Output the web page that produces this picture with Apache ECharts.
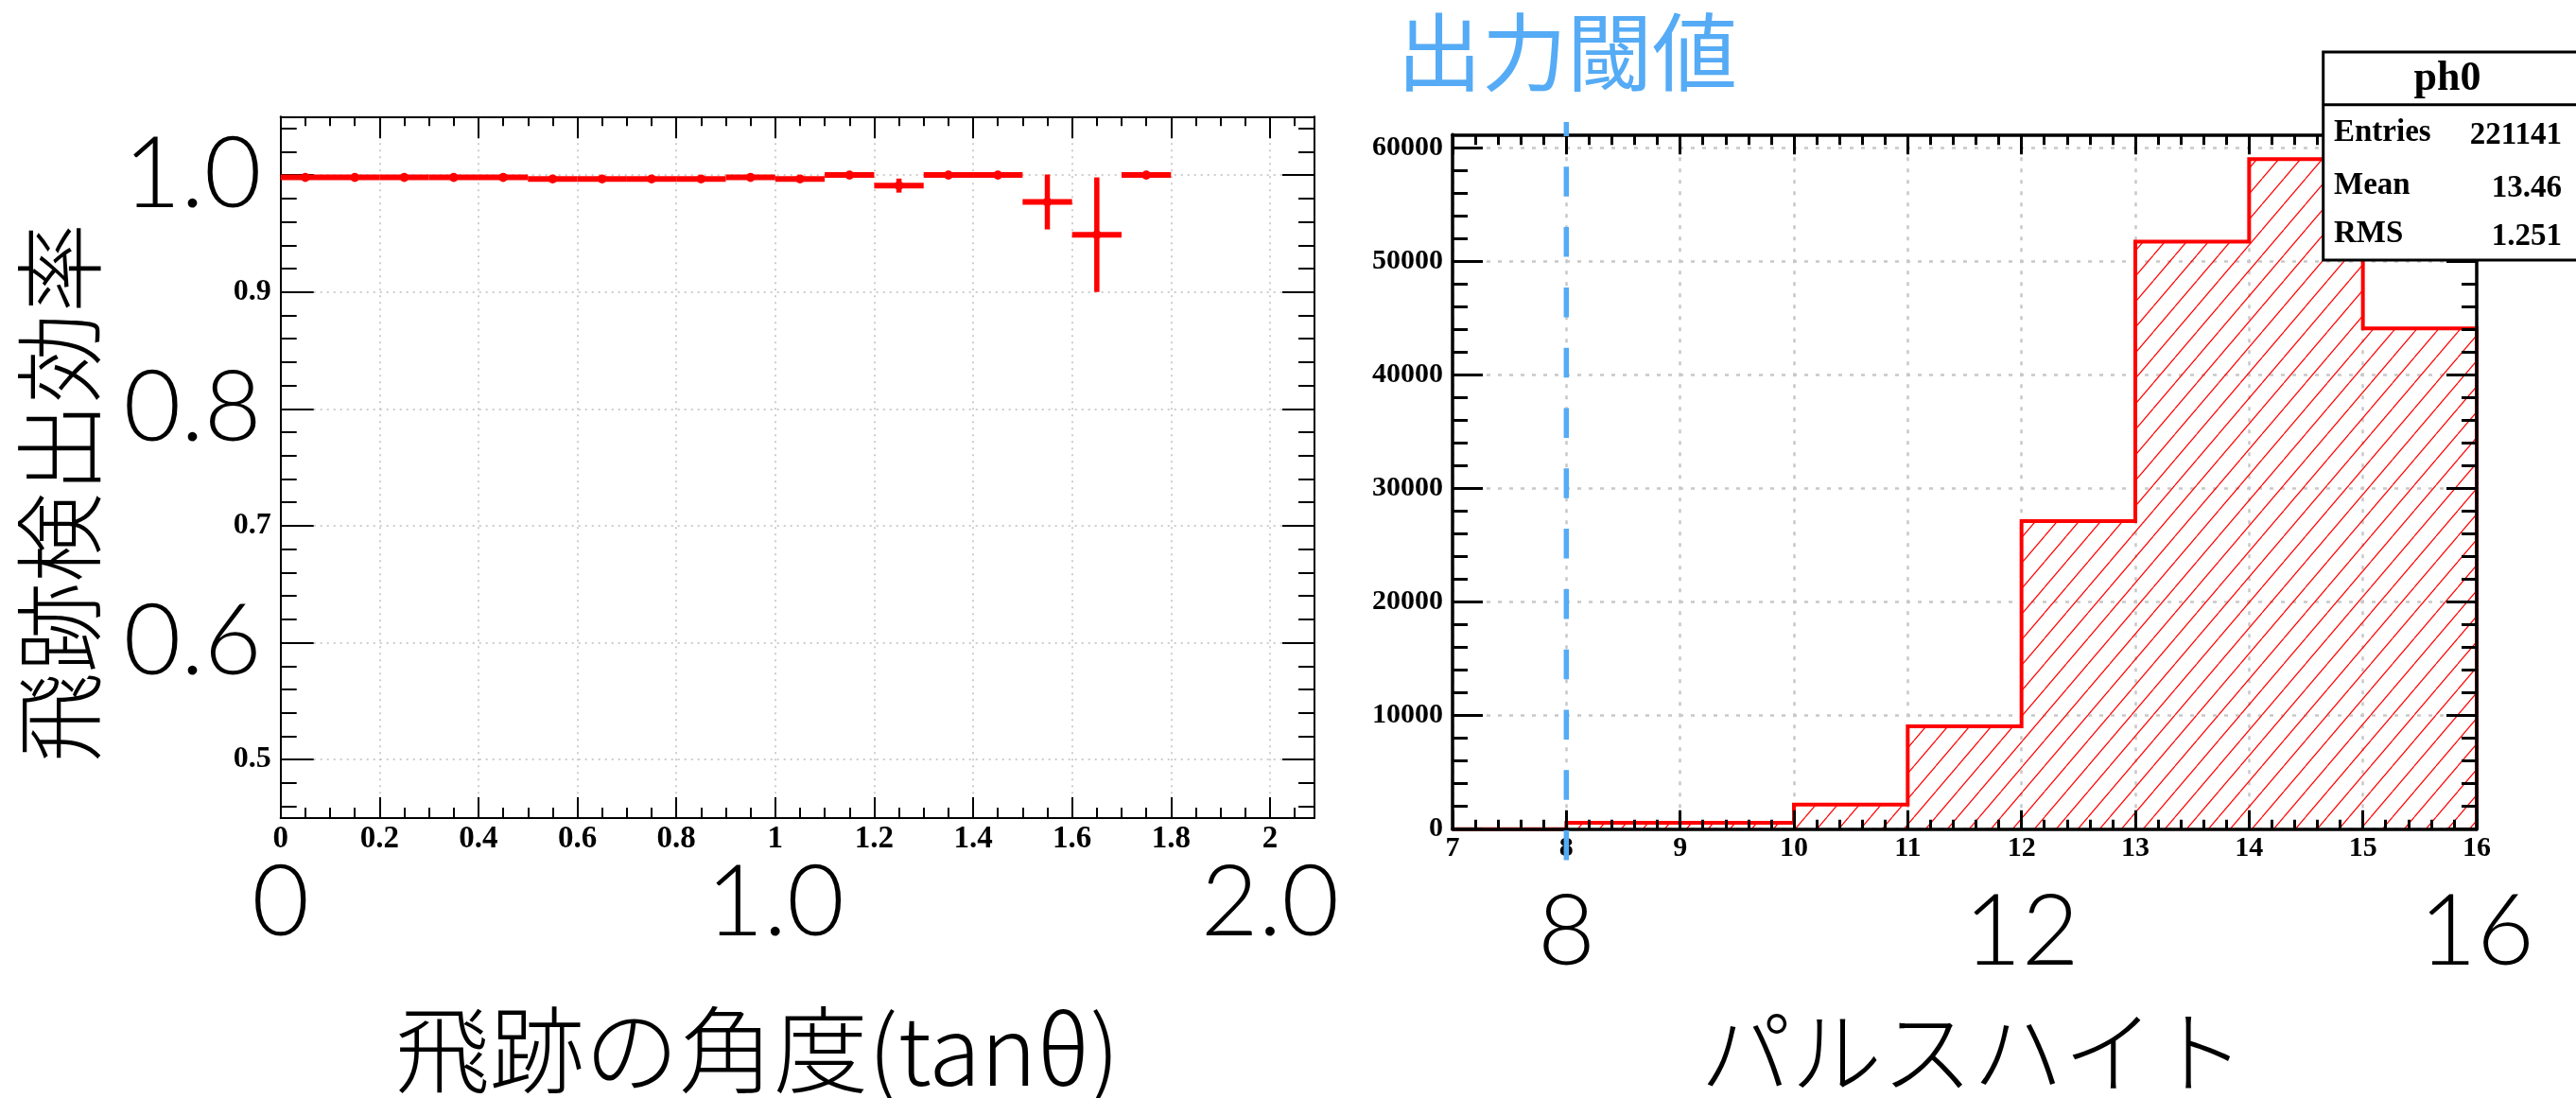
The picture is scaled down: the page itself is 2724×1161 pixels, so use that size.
<!DOCTYPE html>
<html><head><meta charset="utf-8">
<script src="https://cdn.jsdelivr.net/npm/echarts@6/dist/echarts.min.js"></script>
<style>html,body{margin:0;padding:0;background:#fff}#c{width:2724px;height:1161px}</style>
</head><body><div id="c"></div>
<script>
// ---------- Left panel: track detection efficiency vs tan(theta) ----------
const effBinCenters = [0.05,0.15,0.25,0.35,0.45,0.55,0.65,0.75,0.85,0.95,1.05,1.15,1.25,1.35,1.45,1.55,1.65,1.75];
const effValues     = [0.998,0.998,0.998,0.998,0.998,0.9967,0.9967,0.9967,0.9967,0.998,0.9967,1.0,0.991,1.0,1.0,0.977,0.949,1.0];
const effErrors     = [0.001,0.001,0.001,0.001,0.001,0.001,0.001,0.001,0.001,0.001,0.001,0.001,0.006,0.001,0.001,0.0235,0.049,0.001];
const effBinWidth = 0.1;
const effXTickLabels = [0,0.2,0.4,0.6,0.8,1,1.2,1.4,1.6,1.8,2];
const effYMajorTicks = [0.5,0.6,0.7,0.8,0.9,1.0];
const effYTickLabels = [0.5,0.7,0.9];
const effBigXLabels = [0,1,2];
const effBigYLabels = [0.6,0.8,1.0];

// ---------- Right panel: pulse height histogram ----------
const phBinEdges = [7,8,9,10,11,12,13,14,15,16];
const phCounts   = [0,560,560,2170,9060,27140,51770,59040,44120];
const phXTickLabels = [7,8,9,10,11,12,13,14,15,16];
const phYTickLabels = [0,10000,20000,30000,40000,50000,60000];
const phBigXLabels = [8,12,16];
const phThreshold = 8;
const statsTitle = 'ph0';
const statsNames  = ['Entries','Mean','RMS'];
const statsValues = ['221141','13.46','1.251'];

function steps(a, b, s){ const out=[]; const n=Math.round((b-a)/s); for(let i=0;i<=n;i++) out.push(+(a+i*s).toFixed(6)); return out; }
function minorOf(a, b, s, majors){ return steps(a,b,s).filter(v=>!majors.some(m=>Math.abs(m-v)<1e-9)); }

const effXMinor = minorOf(0, 2.05, 0.05, effXTickLabels);
const effYMinor = minorOf(0.46, 1.04, 0.02, effYMajorTicks);
const phXMinor = minorOf(7, 16, 0.2, phXTickLabels);
const phYMinor = minorOf(0, 60000, 2000, phYTickLabels);

const SERIF = '"Liberation Serif", "Times New Roman", serif';
const THIN = 'Lato, "Noto Sans", sans-serif';
const CJK = '"Noto Sans CJK JP", "Noto Sans", sans-serif';

function ax(extra){
  return Object.assign({type:'value', axisLine:{show:false,onZero:false}, axisTick:{show:false}, axisLabel:{show:false}, splitLine:{show:false}}, extra);
}
function tick(vals, len, w, inside){ return {show:true, inside:inside!==false, length:len, customValues:vals, lineStyle:{color:'#000', width:w}}; }
function line(w){ return {show:true, onZero:false, lineStyle:{color:'#000', width:w}}; }

const L = {min:0, max:2.09}, LY = {min:0.45, max:1.05};
const R = {min:7, max:16}, RY = {min:0, max:61200};
const gridDotR = {show:true, lineStyle:{color:'#c8c8c8', type:[4,8], width:2.5}};

const xAxes = [
  // left grid
  ax(Object.assign({gridIndex:0, position:'bottom', axisLine:line(2), axisTick:tick(effXTickLabels,22,2),
    axisLabel:{show:true, customValues:effXTickLabels, formatter:v=>String(v), margin:6, color:'#000', fontFamily:SERIF, fontWeight:'bold', fontSize:33, lineHeight:33},
    splitLine:{show:true, lineStyle:{color:'#bdbdbd', type:[2,5], width:1.5}}}, L)),
  ax(Object.assign({gridIndex:0, position:'bottom', axisTick:tick(effXMinor,11,2)}, L)),
  ax(Object.assign({gridIndex:0, position:'top', axisLine:line(2), axisTick:tick(effXTickLabels,23,2)}, L)),
  ax(Object.assign({gridIndex:0, position:'top', axisTick:tick(effXMinor,10,2)}, L)),
  ax(Object.assign({gridIndex:0, position:'bottom',
    axisLabel:{show:true, customValues:effBigXLabels, formatter:v=>v===0?'0':v.toFixed(1), margin:38, color:'#000', fontFamily:THIN, fontWeight:300, fontSize:105, lineHeight:105}}, L)),
  // right grid
  ax(Object.assign({gridIndex:1, position:'bottom', z:5, axisLine:line(3.5), axisTick:tick(phXTickLabels,20,3),
    axisLabel:{show:true, customValues:phXTickLabels, formatter:v=>String(v), margin:6, color:'#000', fontFamily:SERIF, fontWeight:'bold', fontSize:30, lineHeight:30}}, R)),
  ax(Object.assign({gridIndex:1, position:'bottom', z:5, axisTick:tick(phXMinor,10,3)}, R)),
  ax(Object.assign({gridIndex:1, position:'top', z:5, axisLine:line(3.5), axisTick:tick(phXTickLabels,21,3)}, R)),
  ax(Object.assign({gridIndex:1, position:'top', z:5, axisTick:tick(phXMinor,11,3)}, R)),
  ax(Object.assign({gridIndex:1, position:'bottom', z:0,
    axisTick:{show:false, customValues:phXTickLabels}, splitLine:gridDotR,
    axisLabel:{show:true, customValues:phBigXLabels, formatter:v=>String(v), margin:57, color:'#000', fontFamily:THIN, fontWeight:300, fontSize:105, lineHeight:105}}, R))
];
const yAxes = [
  ax(Object.assign({gridIndex:0, position:'left', axisLine:line(2), axisTick:tick(effYMajorTicks,35,2),
    axisLabel:{show:true, customValues:effYTickLabels, formatter:v=>v.toFixed(1), margin:10, color:'#000', fontFamily:SERIF, fontWeight:'bold', fontSize:32, lineHeight:32},
    splitLine:{show:true, lineStyle:{color:'#bdbdbd', type:[2,5], width:1.5}}}, LY)),
  ax(Object.assign({gridIndex:0, position:'left', axisTick:tick(effYMinor,17,2)}, LY)),
  ax(Object.assign({gridIndex:0, position:'right', axisLine:line(2), axisTick:tick(effYMajorTicks,34,2)}, LY)),
  ax(Object.assign({gridIndex:0, position:'right', axisTick:tick(effYMinor,17,2)}, LY)),
  ax(Object.assign({gridIndex:0, position:'left',
    axisLabel:{show:true, customValues:effBigYLabels, formatter:v=>v.toFixed(1), margin:20, color:'#000', fontFamily:THIN, fontWeight:300, fontSize:105, lineHeight:105}}, LY)),
  ax(Object.assign({gridIndex:1, position:'left', z:5, axisLine:line(3.5), axisTick:tick(phYTickLabels,32,3),
    axisLabel:{show:true, customValues:phYTickLabels, formatter:v=>String(v), margin:10, color:'#000', fontFamily:SERIF, fontWeight:'bold', fontSize:30, lineHeight:30}}, RY)),
  ax(Object.assign({gridIndex:1, position:'left', z:5, axisTick:tick(phYMinor,16,3)}, RY)),
  ax(Object.assign({gridIndex:1, position:'right', z:5, axisLine:line(3.5), axisTick:tick(phYTickLabels,32,3)}, RY)),
  ax(Object.assign({gridIndex:1, position:'right', z:5, axisTick:tick(phYMinor,16,3)}, RY)),
  ax(Object.assign({gridIndex:1, position:'left', z:0, axisTick:{show:false, customValues:phYTickLabels}, splitLine:gridDotR}, RY))
];

function hatchCanvas(){
  const w=23, h=27, c=document.createElement('canvas'); c.width=w; c.height=h;
  const g=c.getContext('2d'); g.strokeStyle='#ff0000'; g.lineWidth=1.2;
  for (const dx of [-w,0,w]) { g.beginPath(); g.moveTo(dx,h); g.lineTo(dx+w,0); g.stroke(); }
  return c;
}

const phOutline = [[phBinEdges[0], 0]];
phCounts.forEach((v,i)=>{ phOutline.push([phBinEdges[i], v], [phBinEdges[i+1], v]); });
phOutline.push([phBinEdges[phBinEdges.length-1], 0]);

const effData = effBinCenters.map((x,i)=>[x, effValues[i], effErrors[i]]);

const ZT = 200;
const statsEls = [
  {type:'rect', z:ZT, shape:{x:2456.7, y:55, width:300, height:220}, style:{fill:'#fff', stroke:'#000', lineWidth:3}},
  {type:'line', z:ZT+1, shape:{x1:2456.7, y1:110.7, x2:2760, y2:110.7}, style:{stroke:'#000', lineWidth:3}},
  {type:'text', z:ZT+1, x:2588, y:84, style:{text:statsTitle, font:'bold 44px '+SERIF, fill:'#000', align:'center', verticalAlign:'middle', textAlign:'center', textVerticalAlign:'middle'}}
];
const rowY = [140, 196, 247];
statsNames.forEach((n,i)=>{
  statsEls.push({type:'text', z:ZT+1, x:2468, y:rowY[i], style:{text:n, font:'bold 33px '+SERIF, fill:'#000', align:'left', verticalAlign:'middle', textAlign:'left', textVerticalAlign:'middle'}});
  statsEls.push({type:'text', z:ZT+1, x:2709, y:rowY[i]+3, style:{text:statsValues[i], font:'bold 33px '+SERIF, fill:'#000', align:'right', verticalAlign:'middle', textAlign:'right', textVerticalAlign:'middle'}});
});

function txt(t, x, y, size, weight, color, rot){
  return {type:'text', x:x, y:y, rotation:rot||0, z:50, style:{text:t, font:weight+' '+size+'px '+CJK, fill:color, align:'center', verticalAlign:'middle', textAlign:'center', textVerticalAlign:'middle'}};
}

const option = {
  animation:false,
  backgroundColor:'#fff',
  grid:[
    {left:296.7, top:123.3, width:1093.3, height:741.7, containLabel:false, outerBoundsMode:'none'},
    {left:1536, top:142.3, width:1083, height:734.4, containLabel:false, outerBoundsMode:'none'}
  ],
  xAxis:xAxes, yAxis:yAxes,
  series:[
    {type:'custom', xAxisIndex:0, yAxisIndex:0, data:effData, z:3,
     renderItem:function(params, api){
       const xc=api.value(0), v=api.value(1), e=api.value(2);
       const a=api.coord([xc-effBinWidth/2, v]), b=api.coord([xc+effBinWidth/2, v]);
       const t=api.coord([xc, v+e]), d=api.coord([xc, v-e]);
       return {type:'group', children:[
         {type:'line', shape:{x1:a[0],y1:a[1],x2:b[0],y2:b[1]}, style:{stroke:'#ff0000', lineWidth:6, lineCap:'butt'}},
         {type:'line', shape:{x1:t[0],y1:t[1],x2:d[0],y2:d[1]}, style:{stroke:'#ff0000', lineWidth:5.5, lineCap:'butt'}},
         {type:'circle', shape:{cx:(a[0]+b[0])/2, cy:a[1], r:4.8}, style:{fill:'#ff0000'}}
       ]};
     }},
    {type:'line', xAxisIndex:5, yAxisIndex:5, data:phOutline, symbol:'none', showSymbol:false, z:2,
     lineStyle:{color:'#ff0000', width:4, join:'miter'},
     areaStyle:{color:{image:hatchCanvas(), repeat:'repeat'}, opacity:1}},
    {type:'custom', xAxisIndex:5, yAxisIndex:5, data:[[phThreshold, 0]], z:10, clip:false,
     renderItem:function(params, api){
       const x=api.coord([api.value(0), 0])[0]; const cs=params.coordSys;
       return {type:'line', shape:{x1:x, y1:cs.y-13.3, x2:x, y2:cs.y+cs.height+36},
               style:{stroke:'#55abf5', lineWidth:5.5, lineDash:[31.5,32.3], lineDashOffset:16.5}};
     }}
  ],
  graphic:statsEls.concat([
    txt('飛跡検出効率', 63, 521, 95, 300, '#000', Math.PI/2),
    txt('飛跡の角度(tanθ)', 801, 1110, 100, 300, '#000'),
    txt('パルスハイト', 2086, 1112, 96, 300, '#000'),
    txt('出力閾値', 1657, 55, 90, 400, '#55abf5')
  ])
};
const chart = echarts.init(document.getElementById('c'));
chart.setOption(option);
</script></body></html>
